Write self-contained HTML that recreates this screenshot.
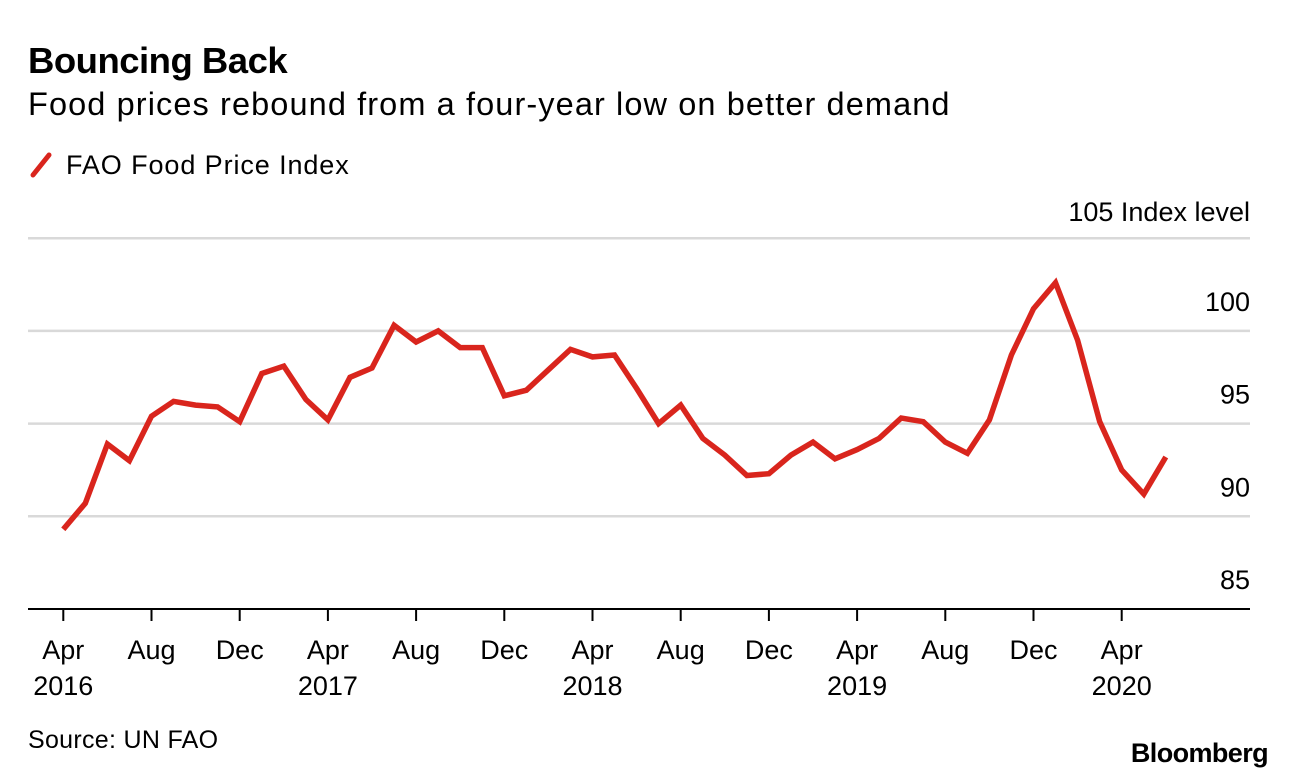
<!DOCTYPE html>
<html><head><meta charset="utf-8"><style>
body{margin:0;background:#fff;font-family:"Liberation Sans",sans-serif;}
svg text{font-family:"Liberation Sans",sans-serif;fill:#000;}
</style></head><body>
<svg width="1296" height="778" viewBox="0 0 1296 778">
<text x="28" y="73" font-size="36.5" font-weight="bold" letter-spacing="-0.5">Bouncing Back</text>
<text x="28" y="115" font-size="32.5" letter-spacing="1.1">Food prices rebound from a four-year low on better demand</text>
<g>
<line x1="33" y1="175" x2="49" y2="155" stroke="#d9251d" stroke-width="5" stroke-linecap="round"/>
<text x="66" y="174" font-size="27" letter-spacing="0.9">FAO Food Price Index</text>
</g>
<g id="grid"></g><g id="xaxis"></g><g id="plot"></g>
<text x="28" y="748" font-size="25" letter-spacing="0.3">Source: UN FAO</text>
<text x="1268" y="762" font-size="27" font-weight="bold" text-anchor="end" letter-spacing="-0.6">Bloomberg</text>
</svg>
<script>
const months=["Apr 2016","May","Jun","Jul","Aug","Sep","Oct","Nov","Dec","Jan 2017","Feb","Mar","Apr","May","Jun","Jul","Aug","Sep","Oct","Nov","Dec","Jan 2018","Feb","Mar","Apr","May","Jun","Jul","Aug","Sep","Oct","Nov","Dec","Jan 2019","Feb","Mar","Apr","May","Jun","Jul","Aug","Sep","Oct","Nov","Dec","Jan 2020","Feb","Mar","Apr","May","Jun"];
const values=[89.3,90.7,93.9,93.0,95.4,96.2,96.0,95.9,95.1,97.7,98.1,96.3,95.2,97.5,98.0,100.3,99.4,100.0,99.1,99.1,96.5,96.8,97.9,99.0,98.6,98.7,96.9,95.0,96.0,94.2,93.3,92.2,92.3,93.3,94.0,93.1,93.6,94.2,95.3,95.1,94.0,93.4,95.2,98.7,101.2,102.6,99.5,95.1,92.5,91.2,93.2];
const yTicks=[85,90,95,100,105];
const xTickIdx=[0,4,8,12,16,20,24,28,32,36,40,44,48];
const xTickMonth=["Apr","Aug","Dec","Apr","Aug","Dec","Apr","Aug","Dec","Apr","Aug","Dec","Apr"];
const xTickYear=["2016","","","2017","","","2018","","","2019","","","2020"];
const NS="http://www.w3.org/2000/svg";
const X=i=>63.3+i*22.05;
const Y=v=>609-(v-85)*18.54;
function mk(t,a,p){const e=document.createElementNS(NS,t);for(const k in a)e.setAttribute(k,a[k]);p.appendChild(e);return e;}
const grid=document.getElementById('grid'),xa=document.getElementById('xaxis'),plot=document.getElementById('plot');
yTicks.forEach(v=>{
 if(v>85){const l=mk('line',{x1:28,x2:1250,y1:Y(v),y2:Y(v),stroke:'#d9d9d9','stroke-width':2.5},grid);
 
 }
 const t=mk('text',{x:1250,y:v===105?Y(v)-17:Y(v)-20,'font-size':27,'text-anchor':'end'},grid);
 t.textContent=v===105?'105 Index level':String(v);
 
 
});
const ax=mk('line',{x1:28,x2:1250,y1:Y(85),y2:Y(85),stroke:'#000','stroke-width':2},xa);


xTickIdx.forEach((idx,k)=>{
 const x=X(idx);
 const tk=mk('line',{x1:x,x2:x,y1:Y(85),y2:Y(85)+12,stroke:'#000','stroke-width':2},xa);
 
 
 const t=mk('text',{x:x,y:659,'font-size':27,'text-anchor':'middle'},xa);
 t.textContent=xTickMonth[k];
 
 
 if(xTickYear[k]){const y=mk('text',{x:x,y:695,'font-size':27,'text-anchor':'middle'},xa);
 y.textContent=xTickYear[k];
 
 }
});
const pts=values.map((v,i)=>X(i).toFixed(1)+','+Y(v).toFixed(1)).join(' ');
const pl=mk('polyline',{points:pts,fill:'none',stroke:'#d9251d','stroke-width':5.5,'stroke-linejoin':'miter','stroke-linecap':'butt'},plot);


</script>
</body></html>
